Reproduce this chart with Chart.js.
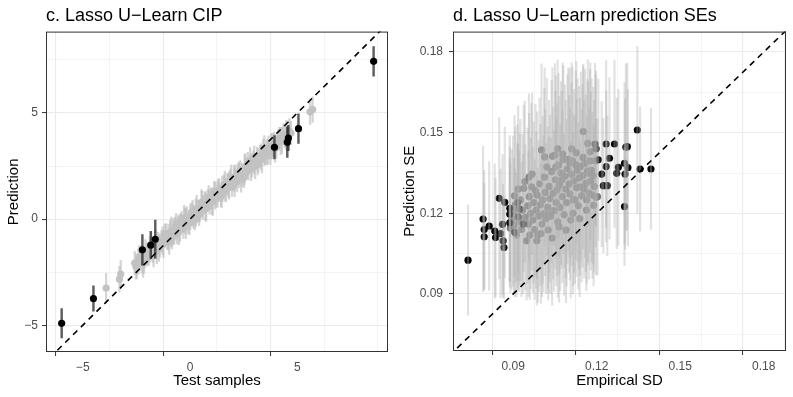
<!DOCTYPE html>
<html>
<head>
<meta charset="utf-8">
<script src="https://cdn.jsdelivr.net/npm/chart.js@4.4.1/dist/chart.umd.min.js"></script>
<style>
    body { margin: 0; background: #fff; }
    .panel { position: absolute; top: 0; height: 397px; }
    #leftPanel { left: 0; width: 396px; }
    #rightPanel { left: 396px; width: 397px; }
</style>
</head>
<body>
<div class="panel" id="leftPanel"><canvas id="cipChart"></canvas></div>
<div class="panel" id="rightPanel"><canvas id="seChart"></canvas></div>
<script>
// c. Lasso U-Learn CIP: test samples vs prediction (grey band)
const cipX = [-3.91, -3.29, -3.23, -2.58, -2.47, -2.41, -2.33, -2.26, -2.14, -2.08, -1.97, -1.93, -1.81, -1.74,
    -1.66, -1.55, -1.49, -1.41, -1.33, -1.24, -1.18, -1.07, -1.01, -0.93, -0.84, -0.79, -0.70, -0.61, -0.56,
    -0.47, -0.39, -0.31, -0.24, -0.15, -0.08, 0.01, 0.07, 0.16, 0.22, 0.31, 0.38, 0.45, 0.53, 0.60, 0.69,
    0.75, 0.83, 0.91, 0.97, 1.06, 1.12, 1.21, 1.28, 1.35, 1.44, 1.50, 1.58, 1.67, 1.73, 1.82, 1.88, 1.96,
    2.05, 2.11, 2.19, 2.27, 2.34, 2.42, 2.51, 2.57, 2.66, 2.72, 2.80, 2.89, 2.95, 3.03, 3.12, 3.18, 3.26,
    3.35, 3.41, 3.50, 3.57, 3.66, 3.74, 3.83, 3.91, 4.02, 4.11, 4.22, 4.34, 4.41, 4.63, 4.70, 5.59, 5.71,
    -2.52, -2.36, -2.19, -2.02, -1.87, -1.70, -1.60, -1.45, -1.28, -1.12, -0.97, -0.88, -0.74, -0.65,
    -0.52, -0.43, -0.28, -0.19, -0.03, 0.12, 0.27, 0.42, 0.57, 0.72, 0.87, 1.02, 1.17, 1.32, 1.47, 1.62,
    1.78, 1.92, 2.08, 2.23, 2.38, 2.54, 2.69, 2.84, 2.99, 3.15, 3.30, 3.46, 3.62, 3.78, 3.96, 4.16, 4.28, 4.48];
const cipY = [-3.25, -2.83, -2.59, -2.07, -2.28, -2.00, -1.76, -2.00, -2.06, -1.61, -1.64, -1.75, -1.24, -1.49,
    -1.29, -1.50, -1.07, -1.24, -1.03, -1.18, -0.73, -0.98, -0.83, -0.62, -0.90, -0.58, -0.36, -0.62, -0.34,
    -0.40, -0.13, -0.46, -0.07, 0.04, -0.20, 0.11, 0.33, 0.11, -0.01, 0.47, 0.40, 0.32, 0.79, 0.54, 0.75,
    0.50, 0.95, 0.78, 0.97, 0.82, 1.27, 1.00, 1.16, 1.36, 1.08, 1.42, 1.62, 1.36, 1.66, 1.59, 1.85, 1.52,
    1.92, 2.01, 1.78, 2.08, 2.31, 2.08, 1.98, 2.44, 2.38, 2.30, 2.77, 2.53, 2.72, 2.49, 2.94, 2.76, 2.97,
    2.82, 3.27, 3.00, 3.16, 3.37, 3.08, 3.44, 3.65, 3.41, 3.73, 3.68, 3.99, 3.91, 4.13, 4.05, 5.05, 5.16,
    -2.24, -1.80, -2.08, -1.63, -1.43, -1.55, -1.08, -1.39, -1.02, -0.71, -1.06, -0.61, -0.64, -0.33,
    -0.56, -0.25, 0.05, -0.21, -0.18, 0.28, 0.30, 0.19, 0.72, 0.61, 1.03, 0.81, 1.12, 1.38, 1.14, 1.56,
    1.58, 1.95, 1.71, 2.11, 1.87, 2.32, 2.59, 2.41, 2.79, 2.58, 2.95, 3.23, 3.12, 3.43, 3.33, 3.82, 3.71, 3.95];
const cipHalf = [0.70, 0.60, 0.65, 0.55, 0.50, 0.60, 0.45, 0.55, 0.50, 0.65, 0.50, 0.45, 0.60, 0.55,
    0.50, 0.60, 0.45, 0.55, 0.50, 0.65, 0.50, 0.45, 0.60, 0.55, 0.50, 0.60, 0.45, 0.55, 0.50, 0.65, 0.50,
    0.45, 0.60, 0.55, 0.50, 0.60, 0.45, 0.55, 0.50, 0.65, 0.50, 0.45, 0.60, 0.55, 0.50, 0.60, 0.45, 0.55,
    0.50, 0.65, 0.50, 0.45, 0.60, 0.55, 0.50, 0.60, 0.45, 0.55, 0.50, 0.65, 0.50, 0.45, 0.60, 0.55, 0.50,
    0.60, 0.45, 0.55, 0.50, 0.65, 0.50, 0.45, 0.60, 0.55, 0.50, 0.60, 0.45, 0.55, 0.50, 0.65, 0.50, 0.45,
    0.60, 0.55, 0.50, 0.60, 0.45, 0.55, 0.50, 0.65, 0.50, 0.55, 0.60, 0.55, 0.60, 0.60,
    0.60, 0.55, 0.65, 0.50, 0.60, 0.70, 0.55, 0.60, 0.65, 0.50, 0.60, 0.70, 0.55, 0.60, 0.65, 0.50,
    0.60, 0.70, 0.55, 0.60, 0.65, 0.50, 0.60, 0.70, 0.55, 0.60, 0.65, 0.50, 0.60, 0.70, 0.55, 0.60,
    0.65, 0.50, 0.60, 0.70, 0.55, 0.60, 0.65, 0.50, 0.60, 0.70, 0.55, 0.60, 0.65, 0.50, 0.60, 0.70];
// highlighted samples (black)
const cipDarkX = [-5.98, -4.50, -2.22, -1.83, -1.62, 3.93, 4.53, 4.58, 5.05, 8.55];
const cipDarkY = [-4.91, -3.74, -1.45, -1.23, -0.95, 3.38, 3.62, 3.82, 4.26, 7.43];
const cipDarkHalf = [0.69, 0.60, 0.72, 0.65, 0.90, 0.55, 0.72, 0.60, 0.70, 0.70];
const cipTicks = [-5, -2.5, 0, 2.5, 5, 7.5];
const cipDiag = [-8, 10];

// d. Lasso U-Learn prediction SEs: empirical SD vs prediction SE
const seDarkX = [0.0738, 0.0792, 0.0796, 0.0796, 0.0814, 0.0834, 0.0837, 0.0850, 0.0855, 0.0862, 0.0864,
    0.0867, 0.0870, 0.0888, 0.0888, 0.0888, 0.0906, 0.0916, 0.0918, 0.0924, 0.0936,
    0.1194, 0.1198, 0.1206, 0.1218, 0.1224, 0.1234, 0.1234, 0.1238, 0.1246, 0.1264, 0.1272, 0.1278,
    0.1300, 0.1300, 0.1302, 0.1305, 0.1310, 0.1312, 0.1346, 0.1356, 0.1395];
const seDarkY = [0.1026, 0.1179, 0.1140, 0.1113, 0.1153, 0.1134, 0.1110, 0.1256, 0.1125, 0.1159, 0.1098,
    0.1073, 0.1241, 0.1219, 0.1197, 0.1165, 0.1129, 0.1240, 0.1187, 0.1216, 0.1160,
    0.1458, 0.1440, 0.1399, 0.1346, 0.1303, 0.1458, 0.1374, 0.1303, 0.1405, 0.1458, 0.1349, 0.1371,
    0.1225, 0.1386, 0.1346, 0.1446, 0.1448, 0.1370, 0.1510, 0.1365, 0.1365];
const seDarkHalf = [0.0205, 0.0270, 0.0220, 0.0200, 0.0240, 0.0250, 0.0220, 0.0300, 0.0240, 0.0260, 0.0210,
    0.0190, 0.0280, 0.0270, 0.0250, 0.0240, 0.0240, 0.0290, 0.0270, 0.0280, 0.0260,
    0.0300, 0.0290, 0.0300, 0.0270, 0.0250, 0.0310, 0.0280, 0.0260, 0.0300, 0.0310, 0.0280, 0.0290,
    0.0220, 0.0300, 0.0280, 0.0310, 0.0310, 0.0290, 0.0310, 0.0230, 0.0225];
const seMidX = [0.0890, 0.0895, 0.0900, 0.0903, 0.0908, 0.0912, 0.0915, 0.0921, 0.0926, 0.0930, 0.0934,
    0.0938, 0.0942, 0.0944, 0.0948, 0.0952, 0.0955, 0.0958, 0.0960, 0.0963, 0.0966, 0.0968, 0.0971,
    0.0974, 0.0977, 0.0980, 0.0983, 0.0986, 0.0989, 0.0992, 0.0995, 0.0998, 0.1002, 0.1004, 0.1006,
    0.1009, 0.1012, 0.1015, 0.1018, 0.1021, 0.1024, 0.1026, 0.1029, 0.1032, 0.1035, 0.1038, 0.1041,
    0.1044, 0.1047, 0.1050, 0.1052, 0.1055, 0.1058, 0.1060, 0.1063, 0.1066, 0.1069, 0.1072, 0.1074,
    0.1077, 0.1080, 0.1083, 0.1086, 0.1089, 0.1092, 0.1095, 0.1098, 0.1101, 0.1104, 0.1107, 0.1110,
    0.1113, 0.1116, 0.1119, 0.1122, 0.1125, 0.1128, 0.1131, 0.1134, 0.1137, 0.1140, 0.1143, 0.1146,
    0.1149, 0.1152, 0.1155, 0.1158, 0.1161, 0.1164, 0.1167, 0.1170, 0.1173, 0.1176, 0.1179, 0.1182,
    0.1185, 0.1188, 0.1191, 0.1198, 0.1203,
    0.0905, 0.0918, 0.0957, 0.0985, 0.1000, 0.1013, 0.1027, 0.1040, 0.1053, 0.1065, 0.1078, 0.1090,
    0.1103, 0.1115, 0.1127, 0.1139, 0.1151, 0.1163, 0.1177, 0.1189, 0.1196, 0.1168, 0.1110, 0.1060];
const seMidY = [0.1145, 0.1178, 0.1208, 0.1155, 0.1232, 0.1120, 0.1190, 0.1170, 0.1250, 0.1140, 0.1212,
    0.1293, 0.1318, 0.1185, 0.1098, 0.1228, 0.1160, 0.1262, 0.1119, 0.1200, 0.1299, 0.1346, 0.1175,
    0.1240, 0.1140, 0.1285, 0.1212, 0.1268, 0.1119, 0.1190, 0.1310, 0.1232, 0.1436, 0.1160, 0.1250,
    0.1198, 0.1335, 0.1278, 0.1180, 0.1372, 0.1222, 0.1138, 0.1300, 0.1255, 0.1190, 0.1355, 0.1412,
    0.1275, 0.1210, 0.1417, 0.1325, 0.1240, 0.1288, 0.1168, 0.1380, 0.1305, 0.1222, 0.1350, 0.1324,
    0.1262, 0.1400, 0.1195, 0.1338, 0.1290, 0.1240, 0.1365, 0.1401, 0.1310, 0.1272, 0.1175, 0.1345,
    0.1395, 0.1250, 0.1320, 0.1250, 0.1380, 0.1295, 0.1360, 0.1228, 0.1332, 0.1299, 0.1375, 0.1265,
    0.1340, 0.1504, 0.1290, 0.1386, 0.1312, 0.1250, 0.1358, 0.1349, 0.1275, 0.1395, 0.1320, 0.1360,
    0.1268, 0.1340, 0.1300, 0.1260, 0.1262,
    0.1265, 0.1290, 0.1335, 0.1098, 0.1125, 0.1410, 0.1195, 0.1108, 0.1372, 0.1150, 0.1420, 0.1138,
    0.1388, 0.1200, 0.1425, 0.1180, 0.1408, 0.1212, 0.1430, 0.1230, 0.1395, 0.1460, 0.1440, 0.1440];
const seMidHalf = [0.024, 0.026, 0.028, 0.025, 0.029, 0.023, 0.027, 0.026, 0.030, 0.025, 0.028,
    0.031, 0.030, 0.027, 0.022, 0.029, 0.027, 0.031, 0.024, 0.028, 0.031, 0.030, 0.027,
    0.030, 0.026, 0.032, 0.029, 0.031, 0.025, 0.028, 0.032, 0.030, 0.032, 0.027, 0.031,
    0.029, 0.033, 0.031, 0.028, 0.033, 0.030, 0.026, 0.032, 0.031, 0.029, 0.034, 0.033,
    0.032, 0.030, 0.034, 0.033, 0.031, 0.032, 0.028, 0.034, 0.033, 0.031, 0.034, 0.033,
    0.032, 0.035, 0.030, 0.034, 0.033, 0.031, 0.035, 0.034, 0.033, 0.032, 0.029, 0.034,
    0.035, 0.032, 0.034, 0.031, 0.035, 0.033, 0.034, 0.031, 0.034, 0.033, 0.035, 0.032,
    0.034, 0.025, 0.033, 0.035, 0.033, 0.031, 0.034, 0.034, 0.032, 0.034, 0.033, 0.034,
    0.031, 0.033, 0.032, 0.029, 0.029,
    0.030, 0.031, 0.031, 0.024, 0.026, 0.033, 0.029, 0.025, 0.034, 0.028, 0.034, 0.027,
    0.035, 0.030, 0.034, 0.029, 0.034, 0.030, 0.033, 0.030, 0.032, 0.031, 0.032, 0.033];
const seTicks = [0.075, 0.09, 0.105, 0.12, 0.135, 0.15, 0.165, 0.18];
const seMajor = [0.09, 0.12, 0.15, 0.18];
const seDiag = [0.05, 0.2];

const FONT = "'Liberation Sans', Arial, Helvetica, sans-serif";

// frame round the panel, like theme_bw
const panelBorder = {
    id: 'panelBorder',
    afterDraw(chart) {
        const { ctx, chartArea: a } = chart;
        ctx.save();
        ctx.strokeStyle = '#333333';
        ctx.lineWidth = 1;
        ctx.strokeRect(a.left + 0.5, a.top + 0.5, a.right - a.left - 1, a.bottom - a.top - 1);
        ctx.restore();
    }
};

function errorBars(xs, ys, halfs) {
    return xs.map((x, i) => ({ x: x, y: [ys[i] - halfs[i], ys[i] + halfs[i]] }));
}
function points(xs, ys) {
    return xs.map((x, i) => ({ x: x, y: ys[i] }));
}

function makeAxis(opts) {
    const isMajor = v => opts.major.some(m => Math.abs(m - v) < 1e-9);
    const tickIsMajor = c => !!(c && c.tick && isMajor(c.tick.value));
    return {
        type: 'linear',
        min: opts.min,
        max: opts.max,
        offset: false,
        afterBuildTicks: axis => { axis.ticks = opts.ticks.map(v => ({ value: v })); },
        afterFit: axis => {
            if (opts.width) axis.width = opts.width;
            if (opts.height) axis.height = opts.height;
        },
        border: { display: false },
        grid: {
            color: '#ebebeb',
            lineWidth: c => tickIsMajor(c) ? 1.1 : 0.55,
            tickLength: 4,
            tickWidth: 1,
            tickColor: c => tickIsMajor(c) ? '#333333' : 'rgba(0,0,0,0)'
        },
        ticks: {
            autoSkip: false,
            maxRotation: 0,
            padding: opts.tickPad,
            color: '#4d4d4d',
            font: { family: FONT, size: 12 },
            callback: v => isMajor(v) ? opts.fmt(v) : ''
        },
        title: {
            display: true,
            text: opts.title,
            color: '#000',
            font: { family: FONT, size: 15 },
            padding: opts.titlePad
        }
    };
}

function titleOpts(text) {
    return {
        display: true,
        text: text,
        align: 'start',
        fullSize: false,
        color: '#000',
        font: { family: FONT, size: 18, weight: 'normal' },
        padding: { top: 5, bottom: 5 }
    };
}

const minusFmt = v => (v < 0 ? '\u2212' + Math.abs(v) : String(v));

new Chart(document.getElementById('cipChart'), {
    type: 'scatter',
    data: {
        datasets: [
            {
                type: 'line',
                data: points(cipDiag, cipDiag),
                borderColor: '#000',
                borderWidth: 1.6,
                borderDash: [6, 5],
                pointRadius: 0,
                order: 0
            },
            {
                data: points(cipDarkX, cipDarkY),
                backgroundColor: '#000',
                borderWidth: 0,
                pointRadius: 3.6,
                order: 1
            },
            {
                type: 'bar',
                data: errorBars(cipDarkX, cipDarkY, cipDarkHalf),
                backgroundColor: 'rgba(40,40,40,0.75)',
                borderWidth: 0,
                barThickness: 1.8,
                grouped: false,
                order: 2
            },
            {
                data: points(cipX, cipY),
                backgroundColor: '#c2c2c2',
                borderWidth: 0,
                pointRadius: 3.6,
                order: 3
            },
            {
                type: 'bar',
                data: errorBars(cipX, cipY, cipHalf),
                backgroundColor: 'rgba(185,185,185,0.6)',
                borderWidth: 0,
                barThickness: 1.6,
                grouped: false,
                order: 4
            }
        ]
    },
    options: {
        responsive: true,
        maintainAspectRatio: false,
        animation: false,
        layout: { padding: { left: 0, right: 8, top: 0, bottom: 0 } },
        plugins: {
            legend: { display: false },
            tooltip: { enabled: false },
            title: titleOpts('c. Lasso U\u2212Learn CIP')
        },
        scales: {
            x: makeAxis({ min: -6.71, max: 9.22, ticks: cipTicks, major: [-5, 0, 5], fmt: minusFmt,
                title: 'Test samples', height: 45, tickPad: 4, titlePad: { top: 0, bottom: 7 } }),
            y: makeAxis({ min: -6.26, max: 8.83, ticks: cipTicks, major: [-5, 0, 5], fmt: minusFmt,
                title: 'Prediction', width: 46, tickPad: 4, titlePad: { top: 5, bottom: 0 } })
        }
    },
    plugins: [panelBorder]
});

new Chart(document.getElementById('seChart'), {
    type: 'scatter',
    data: {
        datasets: [
            {
                type: 'line',
                data: points(seDiag, seDiag),
                borderColor: '#000',
                borderWidth: 1.6,
                borderDash: [6, 5],
                pointRadius: 0,
                order: 0
            },
            {
                type: 'bar',
                data: errorBars(seMidX.concat(seDarkX), seMidY.concat(seDarkY), seMidHalf.concat(seDarkHalf)),
                backgroundColor: 'rgba(175,175,175,0.38)',
                borderWidth: 0,
                barThickness: 1.5,
                grouped: false,
                order: 1
            },
            {
                data: points(seDarkX, seDarkY),
                backgroundColor: '#000',
                borderWidth: 0,
                pointRadius: 3.6,
                order: 2
            },
            {
                data: points(seMidX, seMidY),
                backgroundColor: '#6e6e6e',
                borderWidth: 0,
                pointRadius: 3.6,
                order: 3
            }
        ]
    },
    options: {
        responsive: true,
        maintainAspectRatio: false,
        animation: false,
        layout: { padding: { left: 0, right: 7, top: 0, bottom: 0 } },
        plugins: {
            legend: { display: false },
            tooltip: { enabled: false },
            title: titleOpts('d. Lasso U\u2212Learn prediction SEs')
        },
        scales: {
            x: makeAxis({ min: 0.0684, max: 0.188, ticks: seTicks, major: seMajor, fmt: v => v.toFixed(2),
                title: 'Empirical SD', height: 46, tickPad: 4, titlePad: { top: 0, bottom: 7 } }),
            y: makeAxis({ min: 0.0688, max: 0.1876, ticks: seTicks, major: seMajor, fmt: v => v.toFixed(2),
                title: 'Prediction SE', width: 57, tickPad: 6, titlePad: { top: 5, bottom: 0 } })
        }
    },
    plugins: [panelBorder]
});
</script>
</body>
</html>
